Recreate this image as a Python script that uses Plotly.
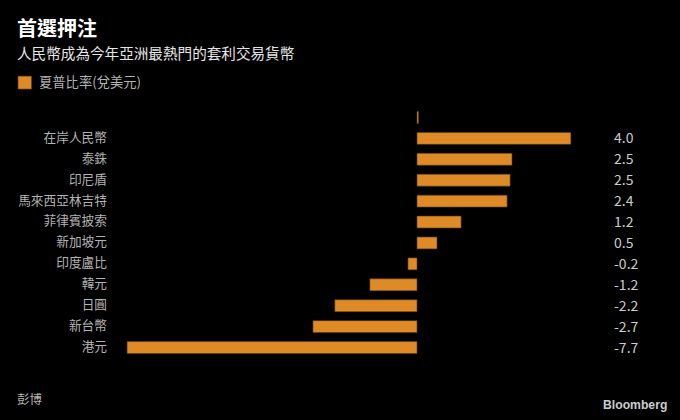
import plotly.graph_objects as go

# -------------------------------
# Data
# -------------------------------
categories = ["", "在岸人民幣", "泰銖", "印尼盾", "馬來西亞林吉特", "菲律賓披索", "新加坡元",
              "印度盧比", "韓元", "日圓", "新台幣", "港元"]
sharpe = [0.04, 4.08, 2.52, 2.47, 2.39, 1.17, 0.53, -0.24, -1.25, -2.18, -2.76, -7.69]
labels = ["", "4.0", "2.5", "2.5", "2.4", "1.2", "0.5", "-0.2", "-1.2", "-2.2", "-2.7", "-7.7"]
series_name = "夏普比率(兌美元)"

W, H = 680, 420
LEFT, RIGHT, TOP, BOTTOM = 115, 0, 106.5, 61.5
FONT = "Noto Sans CJK TC"
ORANGE = "#DE8B27"


def px_x(x):
    return (x - LEFT) / (W - LEFT - RIGHT)


def px_y(y):
    return 1 - (y - TOP) / (H - TOP - BOTTOM)


fig = go.Figure(go.Bar(
    x=sharpe,
    y=categories,
    orientation="h",
    name=series_name,
    width=0.57,
    marker=dict(color=ORANGE, line=dict(color="#5c3a10", width=0.6)),
    hoverinfo="x+y",
))

texts = [
    dict(text="<b>首選押注</b>", x=15, y=27, size=20, color="#ffffff"),
    dict(text="人民幣成為今年亞洲最熱門的套利交易貨幣", x=15, y=51.5, size=14.6, color="#e6e6e6"),
    dict(text=series_name, x=37, y=81, size=13.3, color="#b3b3b3"),
    dict(text="彭博", x=15, y=399, size=12.5, color="#b3b3b3"),
    dict(text="<b>Bloomberg</b>", x=601, y=406, size=12.2, color="#cccccc", family="Liberation Sans"),
]
annotations = [
    dict(text=t["text"], x=px_x(t["x"]), y=px_y(t["y"]), xref="paper", yref="paper",
         xanchor="left", yanchor="middle", showarrow=False,
         font=dict(size=t["size"], color=t["color"], family=t.get("family", FONT)))
    for t in texts
]

# value column on the right
for cat, lab in zip(categories, labels):
    if lab:
        annotations.append(dict(text=lab, x=px_x(611.5), xref="paper", y=cat, yref="y", yshift=1,
                                xanchor="left", yanchor="middle", showarrow=False,
                                font=dict(size=14, color="#cccccc", family=FONT)))

fig.update_layout(
    width=W,
    height=H,
    margin=dict(l=LEFT, r=RIGHT, t=TOP, b=BOTTOM),
    paper_bgcolor="#000000",
    plot_bgcolor="#000000",
    font=dict(family=FONT, color="#b3b3b3", size=13),
    showlegend=False,
    annotations=annotations,
    # legend swatch
    shapes=[dict(type="rect", xref="paper", yref="paper", x0=px_x(18), x1=px_x(31.5),
                 y0=px_y(88.5), y1=px_y(75.5), fillcolor=ORANGE, line=dict(color="#5c3a10", width=0.6))],
    xaxis=dict(range=[(LEFT - 417) / 37.7, (W - 417) / 37.7], visible=False, fixedrange=True),
    yaxis=dict(type="category", categoryorder="array", categoryarray=categories[::-1],
               autorange=False, range=[-0.5, 11.5], showgrid=False, zeroline=False, showline=False,
               ticks="", ticklen=0, tickfont=dict(size=12.7, color="#b3b3b3"), ticklabelstandoff=7,
               ticklabelshift=-1, fixedrange=True),
)

# no page margin, so the picture fills the window
fig.write_html("out.html", config=dict(displayModeBar=False),
               post_script="document.body.style.margin='0';document.documentElement.style.background='#000';")
